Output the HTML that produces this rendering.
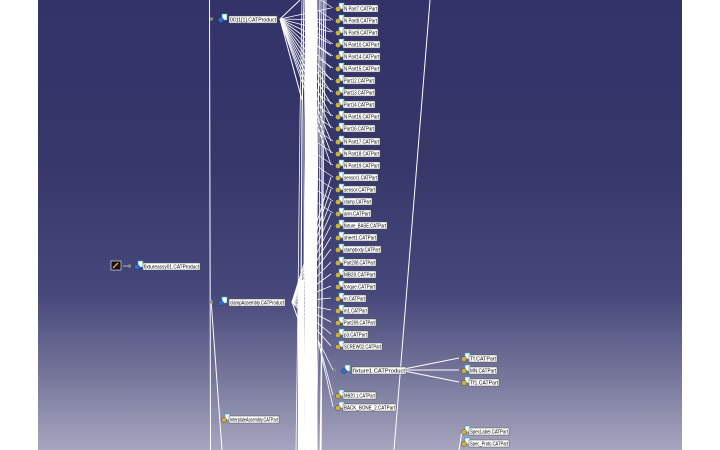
<!DOCTYPE html>
<html><head><meta charset="utf-8"><style>
html,body{margin:0;padding:0;width:720px;height:450px;overflow:hidden;background:#fff}
#bg{position:absolute;left:38px;top:0;width:644px;height:450px;background:linear-gradient(#33336a 0%,#363669 35%,#46477a 65%,#7a7a9e 85%,#a6a6bf 100%)}
svg{position:absolute;left:0;top:0}
text{font-family:"Liberation Sans",sans-serif;font-size:5px;fill:#000}
</style></head><body>
<div id="bg"></div>
<svg width="720" height="450" id="s" xmlns="http://www.w3.org/2000/svg">
<g stroke="#fff" fill="none" stroke-width="1">
<line x1="209.5" y1="0" x2="210.5" y2="450"/>
<line x1="211" y1="300" x2="222" y2="450"/>
<line x1="430" y1="0" x2="394" y2="450"/>
<line x1="399" y1="370" x2="459" y2="358"/>
<line x1="399" y1="370" x2="459" y2="370"/>
<line x1="399" y1="370" x2="459" y2="382"/>
<line x1="462" y1="431" x2="459" y2="450"/>
</g>
<g id="bundle" stroke="#fff" fill="none" stroke-width="0.8"></g>
<g id="nodes"></g>
</svg>
<script>
var NS="http://www.w3.org/2000/svg";
function el(p,t,a){var e=document.createElementNS(NS,t);for(var k in a)e.setAttribute(k,a[k]);p.appendChild(e);return e;}
var b=document.getElementById('bundle'),n=document.getElementById('nodes');
// vertical bundle
var xs=[300,302,304,306,308,310,312,314,316,318,320,322,324];
xs.forEach(function(x,i){el(b,'path',{d:'M'+(x+2)+' 0 L'+x+' 120 L'+(x-2+i%3)+' 300 L'+(x-4+i%2*3)+' 450',"stroke-width":i%2?1.2:0.8});});
el(b,'rect',{x:305,y:0,width:12,height:450,fill:'#fff',stroke:'none'});
el(b,'rect',{x:298,y:280,width:6,height:170,fill:'#fff',stroke:'none'});
var rows=[[8,"N Part7.CATPart",35],[20,"N Part8.CATPart",35],[32,"N Part9.CATPart",35],[44,"N Part10.CATPart",37],[56,"N Part14.CATPart",37],[68,"N Part15.CATPart",37],[80,"Part12.CATPart",32],[92,"Part13.CATPart",32],[104,"Part14.CATPart",32],[116,"N Part16.CATPart",37],[128,"Part16.CATPart",32],[141,"N Part17.CATPart",37],[153,"N Part18.CATPart",37],[165,"N Part19.CATPart",37],[177,"sensor1.CATPart",35],[189,"sensor.CATPart",33],[201,"clamp.CATPart",29],[213,"arm.CATPart",28],[225,"fixture_BASE.CATPart",44],[237,"sheet1.CATPart",34],[249,"clampbody.CATPart",38],[262,"Part208.CATPart",33],[274,"MB20.CATPart",33],[286,"torque.CATPart",33],[298,"m.CATPart",23],[310,"m1.CATPart",25],[322,"Part209.CATPart",33],[334,"p3.CATPart",25],[346,"SCREW02.CATPart",39],[395,"MB20.1.CATPart",33],[407,"BACK_BONE_2.CATPart",53]];
function icon(x,y,prod){
 el(n,'rect',{x:x+1,y:y-5,width:5,height:6,fill:'#fff',stroke:'#2aa',"stroke-width":0.6});
 el(n,'circle',{cx:x,cy:y+1,r:2.6,fill:prod?'#2a6fd6':'#c9b33a',stroke:'#333',"stroke-width":0.4});
}
function label(x,y,t,w){
 el(n,'rect',{x:x,y:y-3,width:w,height:7,fill:'#fff',stroke:'#555',"stroke-width":0.5});
 var tx=el(n,'text',{x:x+1,y:y+2.5,textLength:w-2,lengthAdjust:'spacingAndGlyphs'});tx.textContent=t;
}
rows.forEach(function(r,i){
 var y=r[0];
 if(i<14) el(b,'line',{x1:280,y1:19,x2:331,y2:y});
 else if(i<29) el(b,'line',{x1:292,y1:302,x2:331,y2:y});
 else el(b,'line',{x1:318,y1:340,x2:333,y2:y});
 if(i<18) el(b,'line',{x1:318,y1:y-10,x2:333,y2:y,"stroke-width":0.6});
 icon(338,y,false);label(343,y,r[1],r[2]);
});
// fan outlines
el(b,'path',{d:'M300 0 L280 19 L302 100',"stroke-width":1});
el(b,'path',{d:'M300 280 L292 302 L302 330',"stroke-width":1});
el(b,'line',{x1:318,y1:340,x2:333,y2:370});
// product nodes
[[214,19,"0011[1].CATProduct",48],[214,302,"clampAssembly.CATProduct",56],[337,370,"fixture1.CATProduct",54]].forEach(function(p){
 el(n,'rect',{x:p[0]-4,y:p[1]-1.5,width:3,height:3,fill:'#888'});
 icon(p[0]+7,p[1],true);label(p[0]+15,p[1],p[2],p[3]);
});
icon(224,419,false);label(229,419,"InterplateAssembly.CATPart",50);
[[358,"Tf.CATPart",28],[370,"MN.CATPart",28],[382,"Tf1.CATPart",30],[431,"SpecLabel.CATPart",40],[443,"Spec_Proto.CATPart",40]].forEach(function(r){icon(464,r[0],false);label(469,r[0],r[1],r[2]);});
// root
el(n,'rect',{x:111,y:261,width:10,height:9,fill:'#111',stroke:'#fff',"stroke-width":0.6});
el(n,'path',{d:'M113 268 L118 263',stroke:'#f93',"stroke-width":1.5});
el(n,'line',{x1:123,y1:266,x2:129,y2:266,stroke:'#ccc',"stroke-width":0.8});
el(n,'rect',{x:128,y:264.5,width:3,height:3,fill:'#888'});
icon(137,266,true);label(143,266,"fixtureassy01.CATProduct",57);
</script>
</body></html>
